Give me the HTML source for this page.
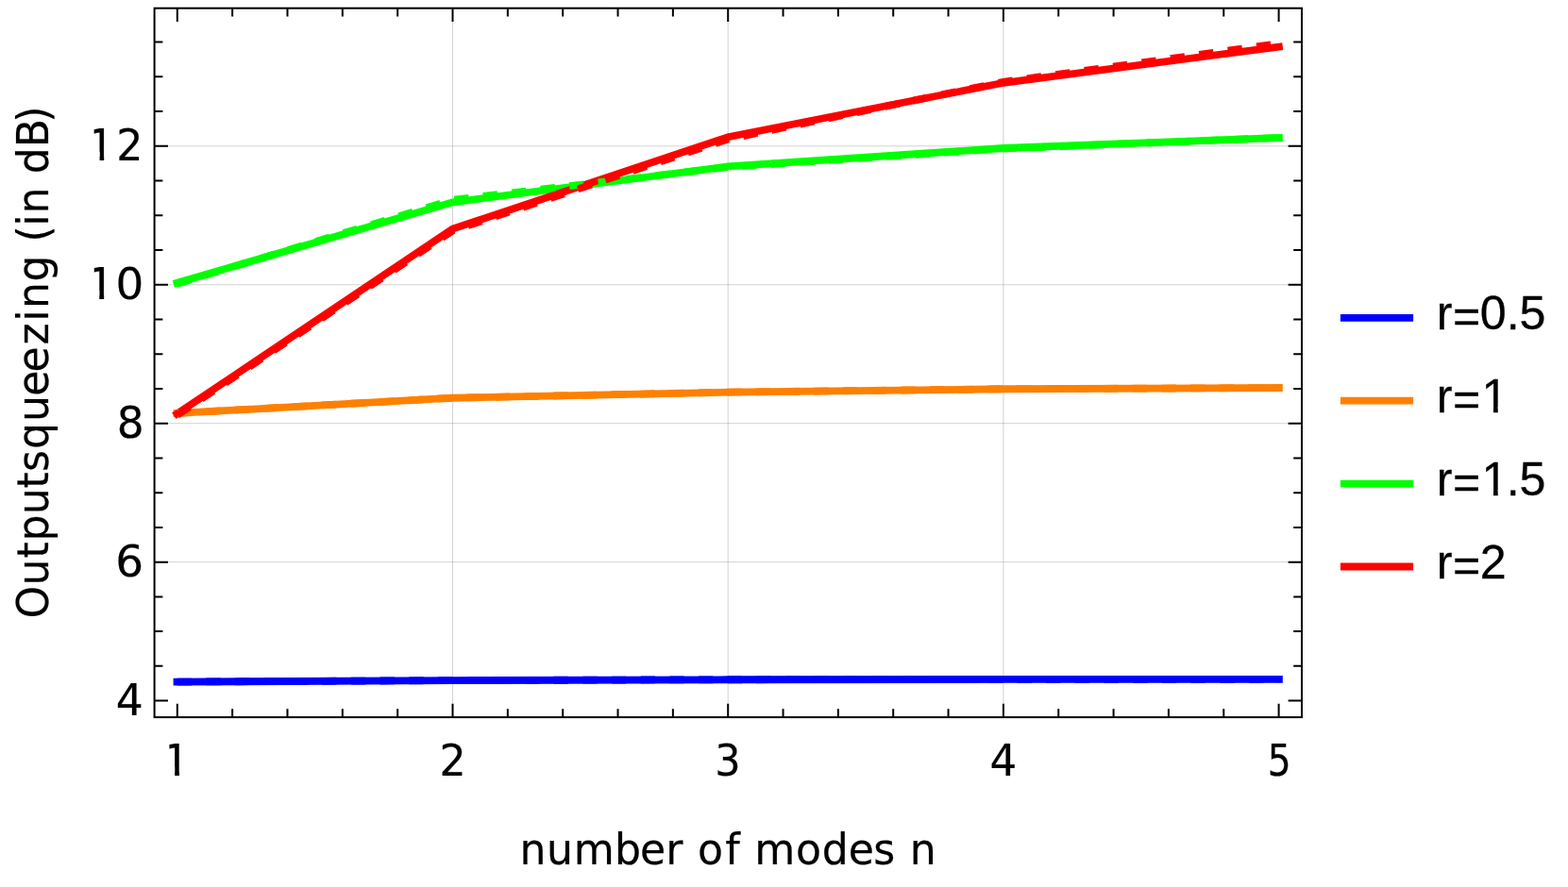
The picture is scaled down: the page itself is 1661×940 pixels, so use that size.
<!DOCTYPE html>
<html lang="en">
<head>
<meta charset="utf-8">
<title>Output squeezing vs number of modes</title>
<style>
html,body{margin:0;padding:0;background:#fff;}
body{width:1661px;height:940px;overflow:hidden;}
svg{display:block;}
.ax{font-family:"DejaVu Sans", "Liberation Sans", sans-serif;fill:#000;stroke:#000;stroke-width:0.2;stroke-linejoin:round;}
.lg{font-family:"Liberation Sans", "DejaVu Sans", sans-serif;fill:#000;stroke:#000;stroke-width:0.3;stroke-linejoin:round;}
</style>
</head>
<body>
<svg width="1661" height="940" viewBox="0 0 1661 940">
<rect x="0" y="0" width="1661" height="940" fill="#ffffff"/>
<g stroke="#808080" stroke-opacity="0.37" stroke-width="0.95" fill="none">
<line x1="479.50" y1="8.70" x2="479.50" y2="760.10"/>
<line x1="771.20" y1="8.70" x2="771.20" y2="760.10"/>
<line x1="1062.90" y1="8.70" x2="1062.90" y2="760.10"/>
<line x1="163.60" y1="595.65" x2="1379.00" y2="595.65"/>
<line x1="163.60" y1="448.70" x2="1379.00" y2="448.70"/>
<line x1="163.60" y1="301.75" x2="1379.00" y2="301.75"/>
<line x1="163.60" y1="154.80" x2="1379.00" y2="154.80"/>
</g>
<g fill="none" stroke-width="7.8" stroke-linejoin="miter" stroke-linecap="square">
<polyline points="187.50,722.62 479.50,721.07 771.20,720.26 1062.90,719.97 1354.90,719.90" stroke="#0000ff"/>
<polyline points="187.50,437.99 479.50,421.73 771.20,415.64 1062.90,412.26 1354.90,411.01" stroke="#ff8000"/>
<polyline points="187.51,299.85 479.50,214.31 771.20,176.40 1062.90,157.00 1354.90,145.97" stroke="#00ff00"/>
<polyline points="187.55,438.58 479.50,242.53 771.20,145.25 1062.90,87.79 1354.90,49.54" stroke="#ff0000"/>
</g>
<g fill="none" stroke-width="7.8" stroke-linejoin="miter" stroke-linecap="butt" stroke-dasharray="15.34 15.34">
<polyline points="187.80,722.61 479.50,721.07 771.20,720.26 1062.90,719.97 1354.60,719.90" stroke="#0000ff"/>
<polyline points="187.80,437.97 479.50,421.73 771.20,415.64 1062.90,412.26 1354.60,411.01" stroke="#ff8000"/>
<polyline points="187.80,300.79 479.50,211.82 771.20,177.06 1062.90,157.52 1354.60,145.98" stroke="#00ff00"/>
<polyline points="187.80,439.88 479.50,244.44 771.20,147.45 1062.90,86.84 1354.60,46.20" stroke="#ff0000"/>
</g>
<g stroke="#000" stroke-width="2.0" fill="none" stroke-linecap="butt">
<path d="M187.80 760.10V745.70M187.80 8.70V23.10M246.14 760.10V751.30M246.14 8.70V17.50M304.48 760.10V751.30M304.48 8.70V17.50M362.82 760.10V751.30M362.82 8.70V17.50M421.16 760.10V751.30M421.16 8.70V17.50M479.50 760.10V745.70M479.50 8.70V23.10M537.84 760.10V751.30M537.84 8.70V17.50M596.18 760.10V751.30M596.18 8.70V17.50M654.52 760.10V751.30M654.52 8.70V17.50M712.86 760.10V751.30M712.86 8.70V17.50M771.20 760.10V745.70M771.20 8.70V23.10M829.54 760.10V751.30M829.54 8.70V17.50M887.88 760.10V751.30M887.88 8.70V17.50M946.22 760.10V751.30M946.22 8.70V17.50M1004.56 760.10V751.30M1004.56 8.70V17.50M1062.90 760.10V745.70M1062.90 8.70V23.10M1121.24 760.10V751.30M1121.24 8.70V17.50M1179.58 760.10V751.30M1179.58 8.70V17.50M1237.92 760.10V751.30M1237.92 8.70V17.50M1296.26 760.10V751.30M1296.26 8.70V17.50M1354.60 760.10V745.70M1354.60 8.70V23.10M163.60 742.60H178.00M1379.00 742.60H1364.60M163.60 705.86H172.40M1379.00 705.86H1370.20M163.60 669.12H172.40M1379.00 669.12H1370.20M163.60 632.39H172.40M1379.00 632.39H1370.20M163.60 595.65H178.00M1379.00 595.65H1364.60M163.60 558.91H172.40M1379.00 558.91H1370.20M163.60 522.18H172.40M1379.00 522.18H1370.20M163.60 485.44H172.40M1379.00 485.44H1370.20M163.60 448.70H178.00M1379.00 448.70H1364.60M163.60 411.96H172.40M1379.00 411.96H1370.20M163.60 375.23H172.40M1379.00 375.23H1370.20M163.60 338.49H172.40M1379.00 338.49H1370.20M163.60 301.75H178.00M1379.00 301.75H1364.60M163.60 265.01H172.40M1379.00 265.01H1370.20M163.60 228.28H172.40M1379.00 228.28H1370.20M163.60 191.54H172.40M1379.00 191.54H1370.20M163.60 154.80H178.00M1379.00 154.80H1364.60M163.60 118.06H172.40M1379.00 118.06H1370.20M163.60 81.33H172.40M1379.00 81.33H1370.20M163.60 44.59H172.40M1379.00 44.59H1370.20"/>
</g>
<rect x="163.60" y="8.70" width="1215.40" height="751.40" fill="none" stroke="#000" stroke-width="2.0"/>
<defs><clipPath id="one1"><path d="M98.25 -36.96H108.66V2.00H103.85V-9.24H98.25ZM117.51 -36.96H188.51V6.00H117.51Z"/></clipPath><clipPath id="one2"><path d="M103.90 -36.96H114.90V2.00H110.09V-9.24H103.90ZM123.75 -36.96H194.75V6.00H123.75Z"/></clipPath><clipPath id="one3"><path d="M179.40 -36.96H189.95V2.00H185.14V-9.24H179.40ZM198.80 -36.96H269.80V6.00H198.80Z"/></clipPath></defs>
<text class="ax" font-size="46.2" transform="translate(0 757.80) scale(0.986 1)" x="124.53" y="0">4</text>
<text class="ax" font-size="46.2" transform="translate(0 610.85) scale(1.015 1)" x="120.55" y="0">6</text>
<text class="ax" font-size="46.2" transform="translate(0 463.90) scale(0.983 1)" x="126.00" y="0">8</text>
<text class="ax" font-size="46.2" transform="translate(0 316.95) scale(1.014 1)" x="90.82 120.85" y="0" clip-path="url(#one1)">10</text>
<text class="ax" font-size="46.2" transform="translate(0 170.00) scale(0.959 1)" x="97.07 128.59" y="0" clip-path="url(#one2)">12</text>
<text class="ax" font-size="46.2" transform="translate(0 821.90) scale(1.000 1)" x="172.11" y="0" clip-path="url(#one3)">1</text>
<text class="ax" font-size="46.2" transform="translate(0 821.90) scale(0.959 1)" x="485.47" y="0">2</text>
<text class="ax" font-size="46.2" transform="translate(0 821.90) scale(0.931 1)" x="813.29" y="0">3</text>
<text class="ax" font-size="46.2" transform="translate(0 821.90) scale(0.978 1)" x="1072.15" y="0">4</text>
<text class="ax" font-size="46.2" transform="translate(0 821.90) scale(0.847 1)" x="1585.34" y="0">5</text>
<text class="ax" transform="translate(550.00 916.00) scale(0.973 1)" font-size="45.4" x="0.54 29.94 59.46 103.78 131.67 159.57 182.78 194.22 224.41 245.79 256.22 301.18 329.72 358.39 385.79 411.77 425.23">number of modes n</text>
<text class="ax" transform="translate(51.00 660.00) rotate(-90) scale(0.973 1)" font-size="45.4" x="4.74 40.58 70.53 88.80 117.97 146.53 164.57 189.12 218.97 246.94 272.94 302.58 328.16 342.24 371.45 400.68 414.70 431.81 445.60 475.06 489.02 517.62 544.87">Outputsqueezing (in dB)</text>
<g stroke-width="7.8" fill="none" stroke-linecap="butt">
<line x1="1419.9" y1="336.80" x2="1497.1" y2="336.80" stroke="#0000ff"/>
<line x1="1419.9" y1="424.70" x2="1497.1" y2="424.70" stroke="#ff8000"/>
<line x1="1419.9" y1="512.60" x2="1497.1" y2="512.60" stroke="#00ff00"/>
<line x1="1419.9" y1="600.50" x2="1497.1" y2="600.50" stroke="#ff0000"/>
</g>
<defs><clipPath id="lone1"><path d="M1516.70 396.74H1661 V440.90 H1596.09 V430.88 H1586.74 V440.90 H1582.01 V430.88 H1572.66 V440.90 H1516.70 Z"/></clipPath><clipPath id="lone2"><path d="M1516.70 484.74H1661 V528.90 H1596.09 V518.88 H1586.74 V528.90 H1582.01 V518.88 H1572.66 V528.90 H1516.70 Z"/></clipPath></defs>
<text class="lg" font-size="50.2" x="1521.70 1539.02 1567.73 1595.65 1609.60" y="348.90" dy="0.00 3.10 -3.10 0.00 0.00">r=0.5</text>
<text class="lg" font-size="50.2" x="1521.70 1539.02 1569.53" y="436.90" dy="0.00 3.10 -3.10" clip-path="url(#lone1)">r=1</text>
<text class="lg" font-size="50.2" x="1521.70 1539.02 1569.53 1595.65 1609.60" y="524.90" dy="0.00 3.10 -3.10 0.00 0.00" clip-path="url(#lone2)">r=1.5</text>
<text class="lg" font-size="50.2" x="1521.70 1539.02 1567.73" y="612.90" dy="0.00 3.10 -3.10">r=2</text>
</svg>
</body>
</html>
